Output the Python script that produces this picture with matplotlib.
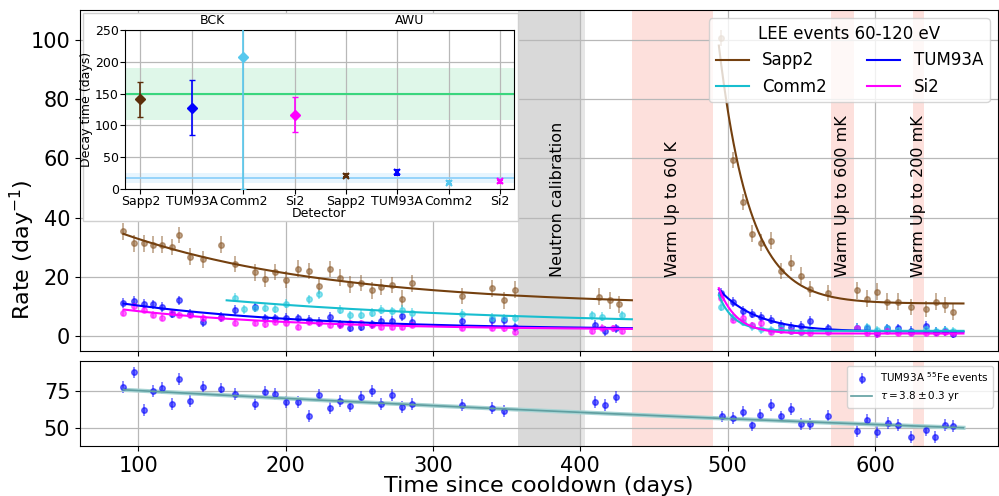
import numpy as np
import matplotlib.pyplot as plt
from matplotlib.patches import Rectangle

detectors = ['Sapp2', 'TUM93A', 'Comm2', 'Si2']

# weekly LEE rates (60-120 eV) before the first warm up
bck_days = [90, 97, 104, 110, 116, 123, 128, 135, 144, 156.5, 166, 179, 186, 193, 200, 208.5,
            216, 223, 230, 237, 244, 251, 258.5, 265, 272, 279, 286, 320, 340, 348, 356]
sapp2_bck = [35.4, 31.3, 31.3, 30.9, 30.9, 30.1, 34.1, 26.8, 25.9, 30.9, 24.3, 21.5, 19.3, 21.7,
             19.1, 22.8, 22.0, 16.9, 22.7, 19.7, 17.5, 18.0, 15.5, 16.6, 17.2, 12.7, 17.8, 13.5,
             16.1, 12.1, 15.7]
tum_bck = [11.2, 11.9, 11.0, 10.7, 9.8, 7.6, 12.1, 7.6, 4.8, 6.5, 8.8, 9.7, 6.0, 6.0, 6.3, 6.0,
           5.4, 4.8, 6.5, 4.0, 2.9, 3.2, 4.0, 5.2, 5.2, 6.7, 4.8, 5.0, 5.4, 5.4, 3.0]
si2_bck = [7.9, 10.1, 8.8, 7.3, 6.3, 8.2, 7.1, 7.1, 6.3, 6.3, 4.6, 4.5, 4.0, 4.8, 4.5, 3.1, 4.8,
           4.5, 3.7, 3.7, 4.5, 4.5, 3.7, 3.1, 3.1, 3.1, 3.7, 2.9, 2.9, 2.6, 1.5]
comm2_days = [166, 172, 179, 186, 193, 200, 216, 223, 237, 244, 251, 258.5, 265, 272, 279, 286,
              320, 340, 348, 356]
comm2_bck = [13.0, 9.1, 9.6, 9.6, 9.2, 11.0, 12.5, 14.2, 9.0, 7.1, 7.3, 7.9, 9.0, 8.4, 9.0, 7.9,
             7.6, 6.3, 6.0, 6.0]

# after the neutron calibration
sapp2_cal_days = [413, 420, 426.5]
sapp2_cal = [13.3, 12.1, 10.7]
tum_cal_days = [410, 417, 424]
tum_cal = [3.7, 1.7, 2.6]
comm2_cal_days = [408, 415, 428.5]
comm2_cal = [7.1, 6.5, 7.0]
si2_cal_days = [408, 415, 422, 428.5]
si2_cal = [1.8, 2.9, 2.6, 1.8]

# after warm up to 60 K
awu_days = [495.6, 503.4, 510.4, 516.8, 522.4, 529.2, 536.4, 543.2, 550.0, 555.6, 568.1, 587.7,
            594.5, 601.5, 608.3, 615.5, 624.1, 634.3, 641.1, 647.8, 652.8]
sapp2_awu = [100.5, 59.4, 45.3, 34.6, 31.5, 32.2, 22.0, 24.7, 20.4, 15.9, 14.6, 15.5, 12.7, 15.0,
             11.6, 11.6, 9.9, 9.2, 11.6, 10.5, 8.1]
tum_awu = [14.6, 11.6, 8.5, 7.6, 6.5, 5.6, 3.7, 3.2, 3.4, 5.2, 2.6, 2.9, 2.6, 1.1, 2.6, 2.6, 1.7,
           3.4, 1.5, 1.7, 0.9]
comm2_awu = [9.9, 6.5, 4.8, 3.3, 2.3, 2.0, 2.6, 1.8, 1.5, 2.2, 1.8, 2.9, 3.0, 2.0, 2.6, 2.2, 1.5,
             2.4, 1.6, 2.0, 1.6]
si2_awu = [13.0, 5.6, 6.3, 3.7, 4.3, 1.5, 2.0, 1.8, 1.5, 1.2, 1.5, 2.6, 1.2, 0.7, 1.8, 1.2, 1.1,
           1.2, 1.0, 1.3, 1.0]
rate_err = {'Sapp2': 2.8, 'TUM93A': 1.6, 'Comm2': 1.5, 'Si2': 1.1}

# decay times (days) with asymmetric errors
bck_tau = [141, 128, 207, 117]
bck_lo = [28, 43, 207, 27]
bck_hi = [27, 43, 60, 27]
awu_tau = [21, 26, 10, 12]
awu_err = [2, 4, 2, 2]
bck_mean, bck_band = 149, (108, 190)
awu_mean, awu_band = 17, (10, 25)

# exponential fits: start day, amplitude, constant
bck_fit = {'Sapp2': (90, 24.5, 10.0), 'TUM93A': (90, 8.9, 2.1),
           'Comm2': (160, 8.7, 3.4), 'Si2': (90, 6.9, 2.1)}
awu_fit = {'Sapp2': (494, 87.0, 11.0), 'TUM93A': (494, 14.3, 1.5),
           'Comm2': (494, 12.0, 1.8), 'Si2': (494, 15.3, 0.9)}
bck_end, awu_end = 435, 660

# 55Fe calibration line in TUM93A
fe_days = [90, 97, 104, 110, 116, 123, 128, 135, 144, 156.5, 166, 179, 186, 193, 200, 208.5, 216,
           223, 230, 237, 244, 251, 258.5, 265, 272, 279, 286, 320, 340, 348, 410, 417, 424,
           496.4, 503.6, 510.4, 516.5, 522.2, 529.2, 536.4, 543.2, 550.0, 555.6, 568.0, 587.7,
           594.7, 601.3, 608.5, 615.5, 624.1, 634.3, 641.0, 647.8, 652.8]
fe_rate = [77.5, 87.3, 62.3, 74.6, 76.8, 66.3, 82.8, 67.9, 77.5, 76.1, 73.0, 66.3, 74.1, 72.8, 67.2,
           67.4, 58.3, 72.3, 63.2, 68.3, 64.5, 70.8, 74.6, 66.1, 72.3, 64.1, 66.3, 65.6, 63.4, 61.6,
           67.2, 65.2, 70.8, 57.8, 56.5, 60.5, 52.2, 58.5, 65.4, 57.8, 62.7, 52.9, 52.9, 58.3, 47.8,
           55.6, 47.3, 53.3, 52.2, 43.9, 48.4, 43.9, 52.0, 51.1]
fe_n0, fe_tau_yr = 75.7, 3.8

neutron_cal = (358, 403)
warm_ups = [(435, 490, 'Warm Up to 60 K'), (570, 585.5, 'Warm Up to 600 mK'),
            (626, 633, 'Warm Up to 200 mK')]

line_col = {'Sapp2': '#74400f', 'TUM93A': 'blue', 'Comm2': '#17becf', 'Si2': 'magenta'}
point_col = {'Sapp2': '#8b5a2b', 'TUM93A': 'blue', 'Comm2': '#2ccbe0', 'Si2': 'magenta'}
inset_col = {'Sapp2': '#5c2e0a', 'TUM93A': 'blue', 'Comm2': '#56c8ee', 'Si2': 'magenta'}


def decay(t, t0, amp, const, tau):
    return amp * np.exp(-(t - t0) / tau) + const


def shade(axis):
    axis.axvspan(neutron_cal[0], 400, color='#d9d9d9', lw=0)
    axis.axvspan(400, neutron_cal[1], color='#e6e6e6', lw=0)
    for a, b, _ in warm_ups:
        axis.axvspan(a, b, color='#fde0dc', lw=0)


fig = plt.figure(figsize=(9.99, 4.96), dpi=100)
ax = fig.add_axes([0.0801, 0.2923, 0.919, 0.6875])
ax2 = fig.add_axes([0.0801, 0.1008, 0.919, 0.1714], sharex=ax)

shade(ax)
shade(ax2)

series = {
    'Sapp2': [(bck_days, sapp2_bck), (sapp2_cal_days, sapp2_cal), (awu_days, sapp2_awu)],
    'TUM93A': [(bck_days, tum_bck), (tum_cal_days, tum_cal), (awu_days, tum_awu)],
    'Comm2': [(comm2_days, comm2_bck), (comm2_cal_days, comm2_cal), (awu_days, comm2_awu)],
    'Si2': [(bck_days, si2_bck), (si2_cal_days, si2_cal), (awu_days, si2_awu)],
}

handles = []
for i, det in enumerate(detectors):
    for days, vals in series[det]:
        ax.errorbar(days, vals, yerr=rate_err[det], fmt='o', ms=4, color=point_col[det],
                    alpha=0.55, elinewidth=1.2, zorder=3)
    t0, amp, const = bck_fit[det]
    t = np.linspace(t0, bck_end, 300)
    h, = ax.plot(t, decay(t, t0, amp, const, bck_tau[i]), color=line_col[det], lw=1.5, zorder=4)
    t0, amp, const = awu_fit[det]
    t = np.linspace(t0, awu_end, 300)
    ax.plot(t, decay(t, t0, amp, const, awu_tau[i]), color=line_col[det], lw=1.5, zorder=4)
    handles.append(h)

ax.text(384.5, 20, 'Neutron calibration', rotation=90, ha='center', va='bottom', fontsize=11.5)
for a, b, label in warm_ups:
    ax.text((a + b) / 2, 20, label, rotation=90, ha='center', va='bottom', fontsize=11.5)

ax.set_xlim(60.5, 683.5)
ax.set_ylim(-5, 110)
ax.set_yticks([0, 20, 40, 60, 80, 100])
ax.grid(True, color='#b8b8b8', lw=0.9)
ax.tick_params(labelsize=15)
ax.tick_params(axis='x', labelbottom=False)

order = [0, 2, 1, 3]
ax.legend([handles[k] for k in order], [detectors[k] for k in order], title='LEE events 60-120 eV',
          ncol=2, loc='upper right', fontsize=12, title_fontsize=12, columnspacing=2.4)

fig.text(0.022, 1 - 250 / 496, 'Rate (day$^{-1}$)', rotation=90, ha='center', va='center',
         fontsize=16)

# 55Fe panel
fe_pts = ax2.errorbar(fe_days, fe_rate, yerr=4, fmt='o', ms=4, color='blue', alpha=0.55,
                      elinewidth=1.2, zorder=3)
t = np.linspace(fe_days[0], awu_end, 300)
fe_fit = fe_n0 * np.exp(-(t - fe_days[0]) / (fe_tau_yr * 365.25))
ax2.plot(t, fe_fit, color='#a8d4d4', lw=3, zorder=3)
fe_line, = ax2.plot(t, fe_fit, color='#5f9ea0', lw=1.2, zorder=4)
ax2.set_ylim(38, 95)
ax2.set_yticks([50, 75])
ax2.set_xticks([100, 200, 300, 400, 500, 600])
ax2.grid(True, color='#b8b8b8', lw=0.9)
ax2.tick_params(labelsize=15)
ax2.set_xlabel('Time since cooldown (days)', fontsize=16, labelpad=0)
ax2.legend([fe_pts, fe_line], ['TUM93A $^{55}$Fe events', r'$\tau = 3.8 \pm 0.3$ yr'],
           loc='upper right', fontsize=7.5)

# inset with decay times
fig.add_artist(Rectangle((0.0831, 0.5544), 0.4354, 0.4194, transform=fig.transFigure,
                         facecolor='white', edgecolor='#d0d0d0', lw=1, zorder=2))
ins = fig.add_axes([0.1251, 0.619, 0.3894, 0.3206])
ins.set_zorder(3)
ins.axhspan(*bck_band, color='#2ecc71', alpha=0.15, lw=0)
ins.axhline(bck_mean, color='#3ad67e', lw=1.5)
ins.axhspan(*awu_band, color='#87cefa', alpha=0.2, lw=0)
ins.axhline(awu_mean, color='#87cefa', lw=1.2)
for i, det in enumerate(detectors):
    ins.errorbar(i, bck_tau[i], yerr=[[bck_lo[i]], [bck_hi[i]]], fmt='D', ms=5,
                 color=inset_col[det], capsize=2, elinewidth=1.2, zorder=4)
    ins.errorbar(i + 4, awu_tau[i], yerr=awu_err[i], fmt='x', ms=4,
                 color=inset_col[det], capsize=2, elinewidth=1.2, mew=1.5, zorder=4)
ins.set_xlim(-0.3, 7.27)
ins.set_ylim(0, 250)
ins.set_xticks(range(8))
ins.set_xticklabels(detectors * 2)
ins.tick_params(labelsize=9, pad=1)
ins.grid(True, color='#b8b8b8', lw=0.9)
ins.set_ylabel('Decay time (days)', fontsize=9, labelpad=1)
ins.set_xlabel('Detector', fontsize=9, labelpad=-1)
ins.text(1.4, 1.02, 'BCK', transform=ins.get_xaxis_transform(), ha='center', va='bottom',
         fontsize=9)
ins.text(5.24, 1.02, 'AWU', transform=ins.get_xaxis_transform(), ha='center', va='bottom',
         fontsize=9)

fig.savefig('out.png', dpi=100)
